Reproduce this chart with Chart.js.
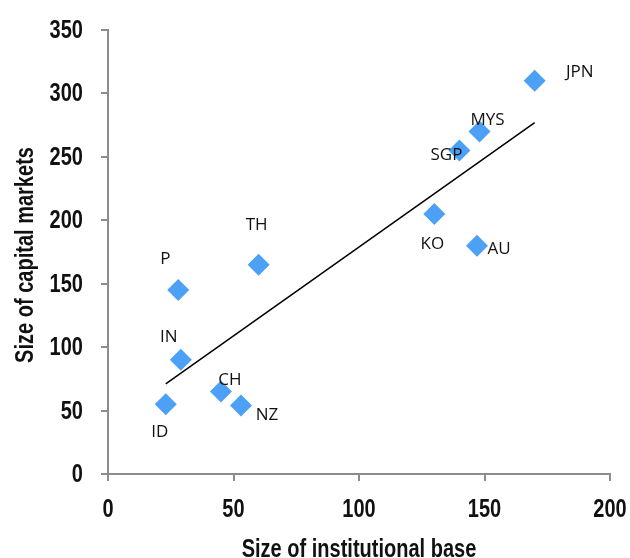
<!DOCTYPE html>
<html>
<head>
<meta charset="utf-8">
<script src="https://cdn.jsdelivr.net/npm/chart.js@4.4.0/dist/chart.umd.min.js"></script>
<style>
  html, body { margin: 0; padding: 0; background: #fff; }
  #wrap { width: 630px; height: 558px; }
</style>
</head>
<body>
<div id="wrap"><canvas id="scatter" width="630" height="558"></canvas></div>
<script>
// countries, x = institutional base, y = capital markets
const countries = ['JPN', 'MYS', 'SGP', 'KO', 'AU', 'TH', 'P', 'IN', 'ID', 'CH', 'NZ'];
const instBase = [170, 148, 140, 130, 147, 60, 28, 29, 23, 45, 53];
const capMarkets = [310, 270, 255, 205, 180, 165, 145, 90, 55, 65, 54];

// trend line ends
const trendX = [23, 170];
const trendY = [71, 277];

const xTicks = [0, 50, 100, 150, 200];
const yTicks = [0, 50, 100, 150, 200, 250, 300, 350];
const xTitle = 'Size of institutional base';
const yTitle = 'Size of capital markets';

// where each label sits relative to its marker (px)
const labelOffsets = [
    [45, -9], [8, -11], [-13, 5], [-2, 30], [22, 3], [-2, -40],
    [-13, -31], [-12, -23], [-6, 28], [9, -11], [26, 10]
];

const axisGray = '#8c8c8c';
const narrowFont = "bold 26px 'Liberation Sans', Arial, sans-serif";
const narrowScale = 0.77;

// condensed look: squeeze a bold face horizontally
function drawNarrow(ctx, text, x, y, align, rot) {
    ctx.save();
    ctx.translate(x, y);
    if (rot) ctx.rotate(rot);
    ctx.scale(narrowScale, 1);
    ctx.font = narrowFont;
    ctx.textAlign = align;
    ctx.textBaseline = 'alphabetic';
    ctx.fillStyle = '#111';
    ctx.fillText(text, 0, 0);
    ctx.restore();
}

const axisText = {
    id: 'axisText',
    afterDraw(chart) {
        const ctx = chart.ctx;
        const xs = chart.scales.x, ys = chart.scales.y;
        yTicks.forEach(v => drawNarrow(ctx, String(v), 83, ys.getPixelForValue(v) + 8, 'right'));
        xTicks.forEach(v => drawNarrow(ctx, String(v), xs.getPixelForValue(v), 517, 'center'));
        const area = chart.chartArea;
        drawNarrow(ctx, xTitle, (area.left + area.right) / 2, 557, 'center');
        drawNarrow(ctx, yTitle, 33, (area.top + area.bottom) / 2 + 3, 'center', -Math.PI / 2);
    }
};

const pointLabels = {
    id: 'pointLabels',
    afterDatasetsDraw(chart) {
        const ctx = chart.ctx;
        const meta = chart.getDatasetMeta(1);
        ctx.save();
        ctx.font = "17px 'Open Sans', 'Noto Sans', sans-serif";
        ctx.fillStyle = '#111';
        ctx.textAlign = 'center';
        ctx.textBaseline = 'middle';
        meta.data.forEach((pt, i) => {
            const off = labelOffsets[i];
            ctx.fillText(countries[i], pt.x + off[0], pt.y + off[1]);
        });
        ctx.restore();
    }
};

new Chart(document.getElementById('scatter'), {
    type: 'scatter',
    data: {
        datasets: [{
            type: 'line',
            data: trendX.map((x, i) => ({ x: x, y: trendY[i] })),
            borderColor: '#000',
            borderWidth: 1.5,
            pointRadius: 0,
            fill: false
        }, {
            data: instBase.map((x, i) => ({ x: x, y: capMarkets[i] })),
            pointStyle: 'rectRot',
            pointRadius: 11,
            pointHoverRadius: 11,
            backgroundColor: '#4ca0f6',
            borderColor: '#4ca0f6',
            borderWidth: 0
        }]
    },
    options: {
        responsive: false,
        animation: false,
        layout: { padding: { top: 30, right: 20, left: 0, bottom: 0 } },
        plugins: { legend: { display: false }, tooltip: { enabled: false } },
        scales: {
            x: {
                type: 'linear',
                min: 0, max: 200,
                afterBuildTicks: s => { s.ticks = xTicks.map(v => ({ value: v })); },
                grid: { drawOnChartArea: false, tickLength: 7, color: axisGray, lineWidth: 2 },
                border: { color: axisGray, width: 2 },
                ticks: { display: false },
                afterFit: s => { s.height = 84; }
            },
            y: {
                type: 'linear',
                min: 0, max: 350,
                afterBuildTicks: s => { s.ticks = yTicks.map(v => ({ value: v })); },
                grid: { drawOnChartArea: false, tickLength: 7, color: axisGray, lineWidth: 2 },
                border: { color: axisGray, width: 2 },
                ticks: { display: false },
                afterFit: s => { s.width = 108; }
            }
        }
    },
    plugins: [pointLabels, axisText]
});
</script>
</body>
</html>
